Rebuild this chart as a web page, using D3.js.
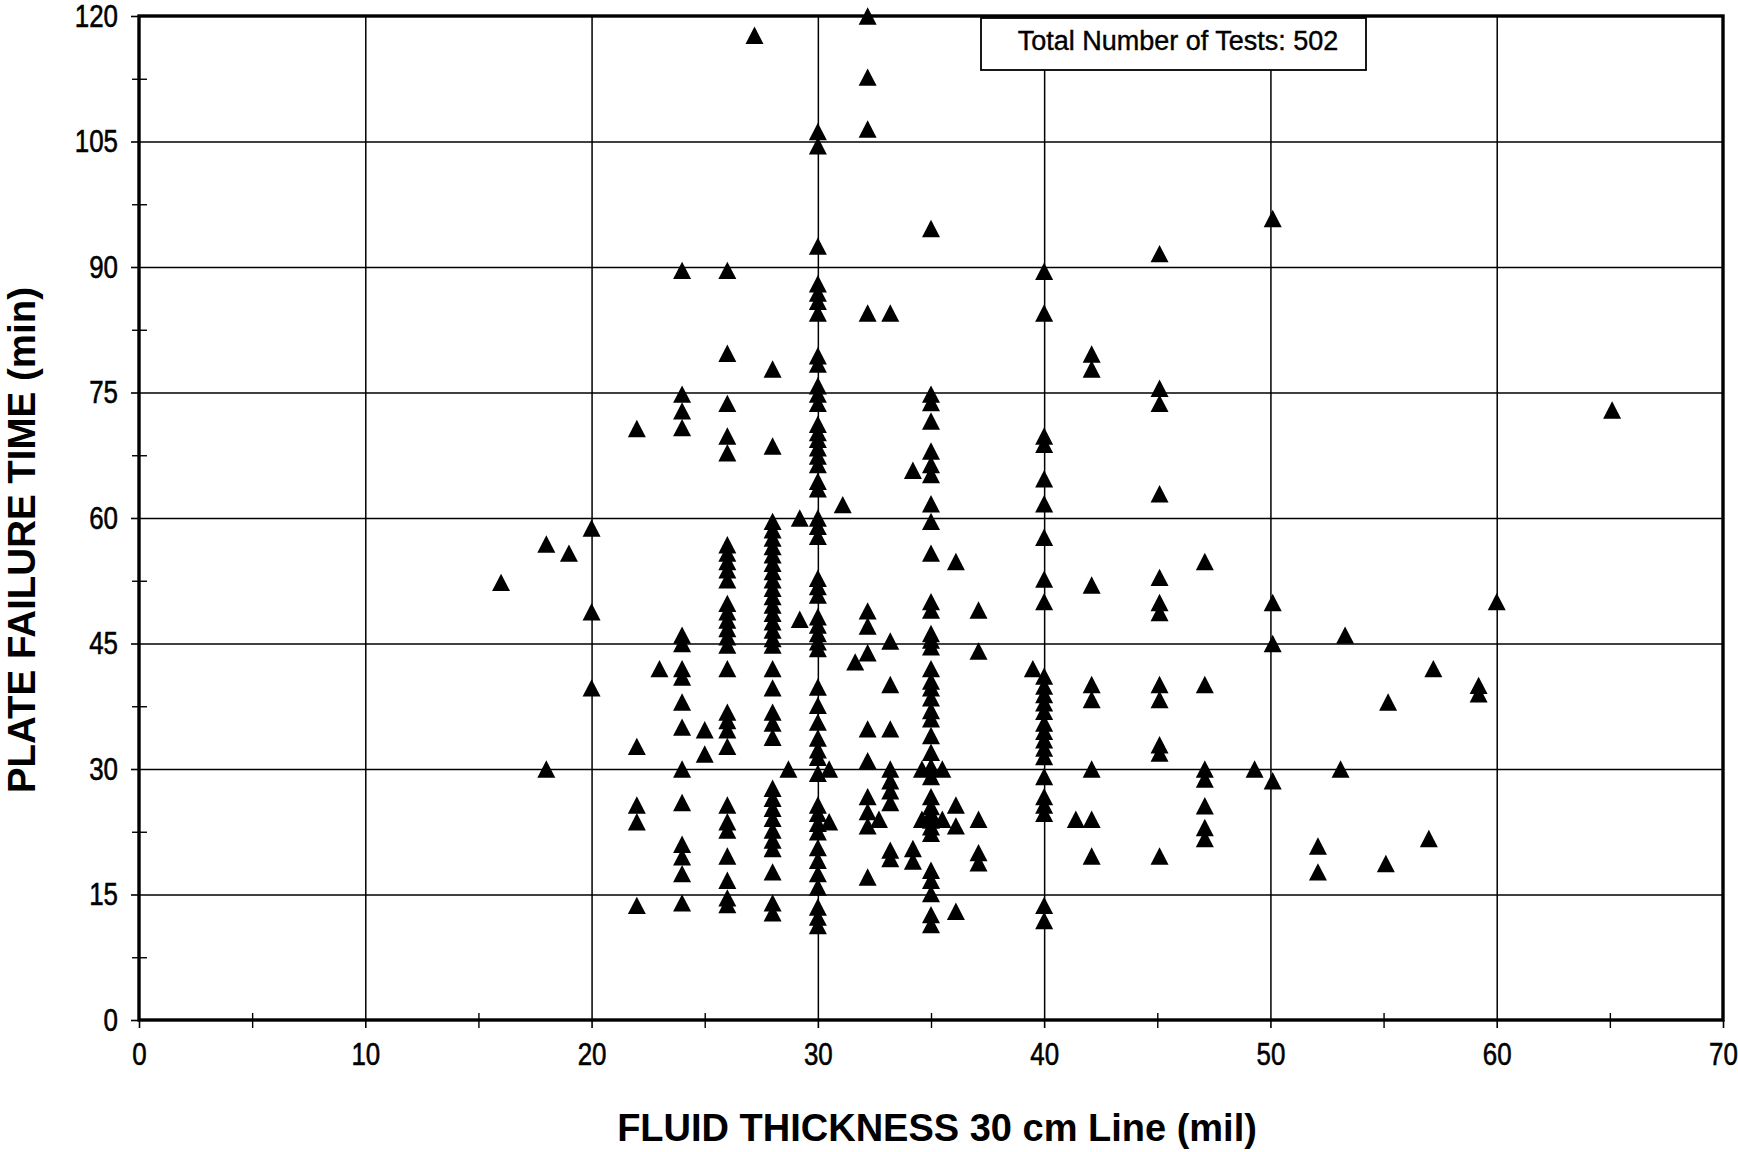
<!DOCTYPE html>
<html>
<head>
<meta charset="utf-8">
<script src="https://cdn.jsdelivr.net/npm/d3@7"></script>
<style>
  html, body { margin: 0; padding: 0; background: #fff; }
  svg { display: block; }
  text { font-family: "Liberation Sans", Arial, Helvetica, sans-serif; fill: #000; }
</style>
</head>
<body>
<svg id="chart" width="1738" height="1152"></svg>
<script>
// ---- data ----
const xTitle = "FLUID THICKNESS 30 cm Line (mil)";
const yTitle = "PLATE FAILURE TIME (min)";
const legendText = "Total Number of Tests: 502";
const xTicks = [0, 10, 20, 30, 40, 50, 60, 70];
const yTicks = [0, 15, 30, 45, 60, 75, 90, 105, 120];
const xMinorTicks = [5, 15, 25, 35, 45, 55, 65];
const yMinorTicks = [7.5, 22.5, 37.5, 52.5, 67.5, 82.5, 97.5, 112.5];

// fluid thickness (mil) of each column of tests
const thickness = [16, 18, 19, 20, 22, 23, 24, 25, 26, 27.2, 28, 28.7, 29.2, 30, 30.5, 31.1, 31.65,
  32.2, 32.7, 33.2, 34.2, 34.6, 35, 35.5, 36.1, 37.1, 39.5, 40, 41.4, 42.1, 45.1, 47.1, 49.3,
  50.1, 52.1, 53.1, 53.3, 55.1, 55.2, 57, 57.2, 59.2, 60, 65.1];
// plate failure times (min) measured at each thickness above
const failureTimes = [
  [52.3],
  [56.9, 30],
  [55.8],
  [58.8, 48.8, 39.7],
  [70.7, 32.7, 25.7, 23.7, 13.7],
  [42],
  [89.6, 74.8, 72.8, 70.8, 46, 45, 42, 41, 38, 35, 30, 26, 21, 19.5, 17.5, 14],
  [34.7, 31.8],
  [89.6, 79.7, 73.7, 69.8, 67.8, 56.8, 55.8, 54.8, 53.8, 52.6, 49.8, 48.8, 47.8, 46.8, 45.8, 44.8, 42,
   36.8, 35.8, 34.7, 32.7, 25.7, 23.7, 22.7, 19.6, 16.7, 14.6, 13.8],
  [117.7],
  [77.8, 68.6, 59.6, 58.6, 57.6, 56.6, 55.6, 54.6, 53.6, 52.6, 51.6, 50.6, 49.6, 48.6, 47.6, 46.6, 45.6,
   44.8, 42, 39.7, 36.8, 35.5, 33.8, 27.7, 26.5, 25.3, 24.1, 22.7, 21.5, 20.5, 17.7, 14, 12.8],
  [30],
  [60, 47.9],
  [106.2, 104.5, 92.5, 88, 86.9, 85.9, 84.5, 79.4, 78.4, 75.8, 74.8, 73.7, 71.2, 70.2, 69.4, 68.4, 67.4,
   66.4, 64.4, 63.5, 60, 59, 57.8, 52.8, 51.8, 50.8, 48.2, 47.2, 46.2, 45.2, 44.4, 39.8, 37.6, 35.6,
   33.7, 32.3, 31.4, 29.5, 25.7, 24.7, 23.5, 22.5, 20.6, 19.1, 17.5, 15.9, 13.5, 12.3, 11.3],
  [30, 23.7],
  [61.6],
  [42.8],
  [120, 112.7, 106.5, 84.5, 48.9, 47.1, 43.9, 34.8, 31, 26.7, 24.9, 23.2, 17.1],
  [24],
  [84.5, 45.3, 40.1, 34.8, 30, 28.6, 27.4, 26, 20.3, 19.3],
  [65.7, 20.5, 19],
  [30, 24],
  [94.6, 74.8, 73.8, 71.6, 68, 66.4, 65.2, 61.7, 59.6, 55.8, 50, 49, 46.2, 45.4, 44.6, 42, 40.5, 39.7,
   38.5, 37, 36, 34, 32, 30.3, 29.1, 26.7, 25.5, 24.7, 23.9, 23.1, 22.3, 17.9, 16.7, 15.1, 12.6, 11.4],
  [30, 24],
  [54.8, 25.7, 23.2, 13],
  [49, 44.1, 24, 20, 18.8],
  [42],
  [89.5, 84.5, 69.8, 68.8, 64.7, 61.7, 57.7, 52.7, 50, 41.1, 39.9, 38.9, 37.9, 36.9, 35.5, 34.5, 33.5,
   32.5, 31.5, 29.1, 26.7, 25.7, 24.7, 13.7, 11.9],
  [24],
  [79.6, 77.8, 52, 40.1, 38.3, 30, 24, 19.6],
  [91.6, 75.5, 73.7, 62.9, 52.9, 49.9, 48.7, 40.1, 38.3, 32.9, 31.9, 19.6],
  [54.8, 40.1, 30, 28.8, 25.6, 23, 21.7],
  [30],
  [95.8, 49.9, 45, 28.6],
  [20.8, 17.7],
  [30],
  [46],
  [18.7],
  [38],
  [21.7],
  [42],
  [40, 39],
  [50],
  [72.9]
];

// ---- layout ----
const margin = { left: 139, right: 1738 - 1723, top: 16, bottom: 1152 - 1020 };
const W = 1738, H = 1152;
const plotW = W - margin.left - margin.right;
const plotH = H - margin.top - margin.bottom;

const svg = d3.select("#chart");
const g = svg.append("g").attr("transform", `translate(${margin.left},${margin.top})`);

const x = d3.scaleLinear().domain([0, 70]).range([0, plotW]);
const y = d3.scaleLinear().domain([0, 120]).range([plotH, 0]);

// gridlines
g.append("g").attr("class", "grid")
  .call(d3.axisLeft(y).tickValues(yTicks.filter(v => v > 0 && v < 120)).tickSize(-plotW).tickFormat(""))
  .call(s => s.select(".domain").remove())
  .call(s => s.selectAll("line").attr("stroke", "#000").attr("stroke-width", 1.5));
g.append("g").attr("class", "grid").attr("transform", `translate(0,${plotH})`)
  .call(d3.axisBottom(x).tickValues(xTicks.filter(v => v > 0 && v < 70)).tickSize(plotH).tickFormat(""))
  .call(s => s.select(".domain").remove())
  .call(s => s.selectAll("line").attr("stroke", "#000").attr("stroke-width", 1.5).attr("y2", -plotH));

// points
const points = [];
thickness.forEach((t, i) => failureTimes[i].forEach(v => points.push([t, v])));
const triType = {
  draw(ctx) {
    const hw = 9, hh = 8.7;
    ctx.moveTo(0, -hh);
    ctx.lineTo(hw, hh);
    ctx.lineTo(-hw, hh);
    ctx.closePath();
  }
};
g.append("g").selectAll("path").data(points).join("path")
  .attr("transform", d => `translate(${x(d[0])},${y(d[1])})`)
  .attr("d", d3.symbol().type(triType))
  .attr("fill", "#000");

// major axes
const fontTick = 32;
const yAxis = g.append("g")
  .call(d3.axisLeft(y).tickValues(yTicks).tickSize(8).tickPadding(13).tickFormat(d3.format("d")));
const xAxis = g.append("g").attr("transform", `translate(0,${plotH})`)
  .call(d3.axisBottom(x).tickValues(xTicks).tickSize(8).tickPadding(14).tickFormat(d3.format("d")));
[yAxis, xAxis].forEach(a => {
  a.select(".domain").remove();
  a.selectAll("line").attr("stroke", "#000").attr("stroke-width", 1.6);
  a.selectAll("text").attr("font-size", fontTick)
    .attr("font-family", "'Liberation Sans', Arial, sans-serif")
    .attr("stroke", "#000").attr("stroke-width", 0.6);
});
// narrow the tick labels like the original condensed face
[yAxis, xAxis].forEach(a => a.selectAll("text").each(function () {
  const len = this.getComputedTextLength();
  d3.select(this).attr("textLength", len * 0.81).attr("lengthAdjust", "spacingAndGlyphs");
}));

// minor ticks (crossing the axis)
const minorY1 = g.append("g").call(d3.axisLeft(y).tickValues(yMinorTicks).tickSize(7).tickFormat(""));
const minorY2 = g.append("g").call(d3.axisRight(y).tickValues(yMinorTicks).tickSize(8).tickFormat(""));
const minorX1 = g.append("g").attr("transform", `translate(0,${plotH})`)
  .call(d3.axisBottom(x).tickValues(xMinorTicks).tickSize(8).tickFormat(""));
const minorX2 = g.append("g").attr("transform", `translate(0,${plotH})`)
  .call(d3.axisTop(x).tickValues(xMinorTicks).tickSize(7).tickFormat(""));
[minorY1, minorY2, minorX1, minorX2].forEach(a => {
  a.select(".domain").remove();
  a.selectAll("line").attr("stroke", "#000").attr("stroke-width", 1.4);
});

// frame
g.append("rect").attr("x", 0).attr("y", 0).attr("width", plotW).attr("height", plotH)
  .attr("fill", "none").attr("stroke", "#000").attr("stroke-width", 3.4);

// legend box
const lg = svg.append("g");
lg.append("rect").attr("x", 981).attr("y", 18).attr("width", 385).attr("height", 52)
  .attr("fill", "#fff").attr("stroke", "#000").attr("stroke-width", 1.8);
lg.append("text").attr("x", 1178).attr("y", 50).attr("text-anchor", "middle")
  .attr("font-size", 27).attr("stroke", "#000").attr("stroke-width", 0.4).text(legendText);

// axis titles
svg.append("text").attr("x", 937).attr("y", 1141).attr("text-anchor", "middle")
  .attr("font-size", 38).attr("font-weight", "bold").text(xTitle);
svg.append("text").attr("transform", "translate(35,540) rotate(-90)").attr("text-anchor", "middle")
  .attr("font-size", 38.5).attr("font-weight", "bold").text(yTitle);
</script>
</body>
</html>
